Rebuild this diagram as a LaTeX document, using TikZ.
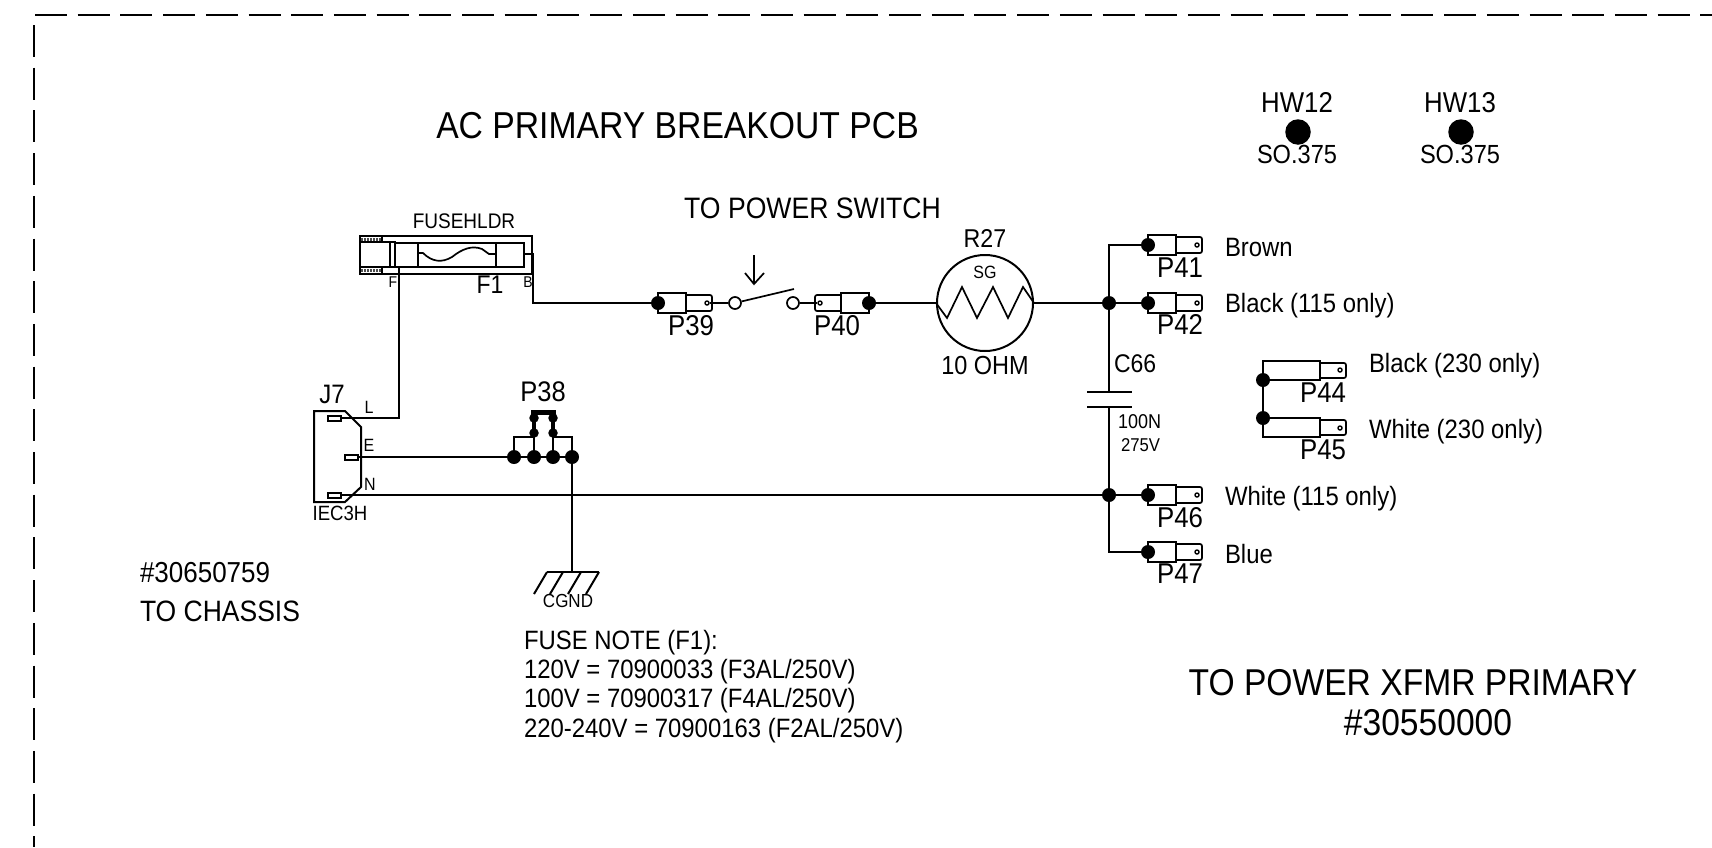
\documentclass[tikz,border=0pt]{standalone}
\usepackage{fontspec}
\setmainfont[FakeStretch=0.9]{Liberation Sans}
\tikzset{
  x=1pt,y=-1pt,
  wire/.style={line width=2pt,black},
  thin wire/.style={line width=1.7pt,black},
  heavy/.style={line width=4.4pt,black},
  frame line/.style={line width=2pt,black,dash pattern=on 32pt off 10.7pt},
  jdot/.style={circle,fill=black,draw=none,inner sep=0pt,minimum size=14pt},
  sdot/.style={circle,fill=black,draw=none,inner sep=0pt,minimum size=9.5pt},
  hole/.style={circle,draw=black,line width=1.4pt,fill=white,inner sep=0pt,minimum size=4pt},
  swc/.style={circle,draw=black,line width=1.7pt,fill=white,inner sep=0pt,minimum size=12pt},
  hwdot/.style={circle,fill=black,draw=none,inner sep=0pt,minimum size=25.5pt},
  lbl/.style={inner sep=0pt,outer sep=0pt,anchor=base},
  lbw/.style={inner sep=0pt,outer sep=0pt,anchor=base west},
}
\newcommand{\ct}[4]{\node[lbl,font=\fontsize{\fpeval{#3/0.9}pt}{#3pt}\selectfont] (#1) at (#2) {#4};}
\newcommand{\lf}[4]{\node[lbw,font=\fontsize{\fpeval{#3/0.9}pt}{#3pt}\selectfont] (#1) at (#2) {#4};}
% faston terminal: #1 name, #2 x, #3 y, #4 direction (1 or -1)
\newcommand{\faston}[4]{%
  \begin{scope}[shift={(#2,#3)},xscale=#4]
    \draw[thin wire] (0,-10) -- (28,-10) -- (28,10) -- (0,10) -- cycle;
    \draw[thin wire,rounded corners=2pt] (28,-8) -- (54,-8) -- (54,8) -- (28,8);
    \node[hole] (#1h) at (49,0) {};
    \node[jdot] (#1) at (0,0) {};
  \end{scope}}
\begin{document}
\begin{tikzpicture}
\useasboundingbox (0,0) rectangle (1712,847);
% sheet border
\coordinate (fa) at (35,15); \coordinate (fb) at (1712,15);
\coordinate (fc) at (34,25); \coordinate (fd) at (34,847);
\draw[frame line] (fa) -- (fb);
\draw[frame line] (fc) -- (fd);

% fuse holder
\draw[wire] (360,236) -- (532,236) -- (532,274) -- (360,274) -- cycle;
\draw[line width=2.6pt] (360,236) -- (360,274);
\draw[wire] (360,242) -- (395,242) -- (395,267) -- (360,267);
\draw[wire] (390,242) -- (390,267);
\draw[wire] (382,236) -- (382,242);
\draw[wire] (382,267) -- (382,274);
\draw[line width=3pt,black!70,dash pattern=on 2pt off 1pt] (361,239) -- (381,239);
\draw[line width=3pt,black!70,dash pattern=on 2pt off 1pt] (361,270.5) -- (381,270.5);
\draw[thin wire] (395,243) rectangle (524,267);
\draw[line width=2.4pt] (418,243) rectangle (496,267);
\draw[thin wire] (418,253) -- (423,253) .. controls (432,262) and (442,263) .. (452,257) .. controls (462,249) and (472,245) .. (482,249) -- (489,254) -- (496,254);
\coordinate (fbr) at (524,254);
\coordinate (fbk) at (533,254);
\coordinate (fbd) at (533,303);
\coordinate (ffp) at (399,267);
\coordinate (ffd) at (399,418);

% J7
\draw[wire] (314,411) -- (345,411) -- (361,427) -- (361,487) -- (345,502) -- (314,502) -- cycle;
\draw[thin wire,fill=white] (328,416) rectangle (341,421);
\draw[thin wire,fill=white] (345,455) rectangle (358,460);
\draw[thin wire,fill=white] (328,493) rectangle (341,498);
\coordinate (jl) at (341,418);
\coordinate (je) at (358,457);
\coordinate (jn) at (341,495);

% P38
\node[jdot] (p38a) at (514,457) {};
\node[jdot] (p38b) at (534,457) {};
\node[jdot] (p38c) at (553,457) {};
\node[jdot] (p38d) at (572,457) {};
\coordinate (p38ta) at (514,437); \coordinate (p38td) at (572,437);
\coordinate (p38tb) at (534,437); \coordinate (p38tc) at (553,437);
\node[sdot] (p38e) at (534,433) {};
\node[sdot] (p38f) at (553,433) {};
\node[sdot] (p38g) at (534,418) {};
\node[sdot] (p38h) at (553,418) {};
\coordinate (p38i) at (531,412); \coordinate (p38j) at (556,412);
\coordinate (p38k) at (534,412); \coordinate (p38l) at (553,412);
\draw[wire] (p38a.center) -- (p38ta) -- (p38tb);
\draw[wire] (p38d.center) -- (p38td) -- (p38tc);
\draw[wire] (p38b.center) -- (p38e.center);
\draw[wire] (p38c.center) -- (p38f.center);
\draw[heavy] (p38e.center) -- (p38g.center) -- (p38k);
\draw[heavy] (p38f.center) -- (p38h.center) -- (p38l);
\draw[line width=5pt] (p38i) -- (p38j);

% ground
\coordinate (ga) at (547,572); \coordinate (gb) at (563,572);
\coordinate (gc) at (581,572); \coordinate (gd) at (599,572);
\coordinate (gm) at (572,572);
\draw[wire] (ga) -- (gd);
\draw[wire] (ga) -- ++(-13,22);
\draw[wire] (gb) -- ++(-13,22);
\draw[wire] (gc) -- ++(-13,22);
\draw[wire] (gd) -- ++(-13,22);

% terminals
\faston{p39}{658}{303}{1}
\faston{p40}{869}{303}{-1}
\faston{p41}{1148}{245}{1}
\faston{p42}{1148}{303}{1}
\faston{p46}{1148}{495}{1}
\faston{p47}{1148}{552}{1}

% P44 / P45
\begin{scope}
\draw[thin wire] (1263,380) -- (1320,380) -- (1320,361) -- (1263,361) -- (1263,437) -- (1320,437) -- (1320,418) -- (1263,418);
\draw[thin wire,rounded corners=2pt] (1320,363) -- (1346,363) -- (1346,378) -- (1320,378);
\draw[thin wire,rounded corners=2pt] (1320,420) -- (1346,420) -- (1346,435) -- (1320,435);
\node[hole] (p44h) at (1340,370) {};
\node[hole] (p45h) at (1340,428) {};
\node[jdot] (p44) at (1263,380) {};
\node[jdot] (p45) at (1263,418) {};
\end{scope}

% switch
\node[swc] (sa) at (735,303) {};
\node[swc] (sb) at (793,303) {};
\coordinate (sl) at (794,289);
\draw[thin wire] (sa) -- (sl);
\draw[thin wire] (p39h) -- (sa);
\draw[thin wire] (sb) -- (p40h);
\coordinate (aa) at (754,255); \coordinate (ab) at (754,284);
\coordinate (ac) at (745,273); \coordinate (ad) at (764,273);
\draw[thin wire] (aa) -- (ab);
\draw[thin wire] (ac) -- (ab) -- (ad);

% R27
\node[circle,draw=black,line width=2pt,inner sep=0pt,minimum size=96pt] (r27) at (985,303) {};
\draw[thin wire] (r27.west) -- (947,318) -- (962,287) -- (977,318) -- (993,287) -- (1008,318) -- (1023,287) -- (r27.east);

% C66
\coordinate (ca) at (1087,392); \coordinate (cb) at (1132,392);
\coordinate (cc) at (1087,407); \coordinate (cd) at (1132,407);
\coordinate (ct) at (1109,392); \coordinate (cu) at (1109,407);
\draw[wire] (ca) -- (cb);
\draw[wire] (cc) -- (cd);

% junctions
\node[jdot] (ju) at (1109,303) {};
\node[jdot] (jd) at (1109,495) {};
\coordinate (ct41) at (1109,245);
\coordinate (ct47) at (1109,552);

% wires
\draw[wire] (fbr) -- (fbk) -- (fbd) -- (p39.center);
\draw[wire] (ffp) -- (ffd) -- (jl);
\draw[wire] (je) -- (p38a.center);
\draw[wire] (p38a.center) -- (p38d.center);
\draw[wire] (jn) -- (jd.center);
\draw[wire] (p38d.center) -- (gm);
\draw[wire] (p40.center) -- (r27.west);
\draw[wire] (r27.east) -- (p42.center);
\draw[wire] (p41.center) -- (ct41) -- (ju.center) -- (ct);
\draw[wire] (cu) -- (jd.center) -- (ct47) -- (p47.center);
\draw[wire] (jd.center) -- (p46.center);
\draw[wire] (p44.center) -- (p45.center);

% hardware
\node[hwdot] (hw12) at (1298,132) {};
\node[hwdot] (hw13) at (1461,132) {};

% text
\ct{t1}{677.5,138}{33.7}{AC PRIMARY BREAKOUT PCB}
\ct{t2}{812.5,218}{26.6}{TO POWER SWITCH}
\ct{t3}{464,228}{19}{FUSEHLDR}
\ct{t4}{490,293}{23}{F1}
\ct{t5}{393,287}{14}{F}
\ct{t6}{528,287}{14}{B}
\ct{t7}{332,403}{24}{J7}
\ct{t8}{369,413}{16}{L}
\ct{t9}{369,451}{16}{E}
\ct{t10}{370,490}{16}{N}
\ct{t11}{340,520}{18.6}{IEC3H}
\ct{t12}{543,401}{25.5}{P38}
\ct{t13}{691,335}{25.8}{P39}
\ct{t14}{837,335}{25.8}{P40}
\ct{t15}{985,247}{23.2}{R27}
\ct{t16}{985,278}{16}{SG}
\ct{t17}{985,374}{23.5}{10 OHM}
\ct{t18}{1180,277}{25.8}{P41}
\ct{t19}{1180,334}{25.8}{P42}
\ct{t20}{1323,402}{25.8}{P44}
\ct{t21}{1323,459}{25.8}{P45}
\ct{t22}{1180,527}{25.8}{P46}
\ct{t23}{1180,583}{25.8}{P47}
\lf{t24}{1225,256}{23.9}{Brown}
\lf{t25}{1225,312}{23.9}{Black (115 only)}
\lf{t26}{1369,372}{23.9}{Black (230 only)}
\lf{t27}{1369,438}{23.9}{White (230 only)}
\lf{t28}{1225,505}{23.9}{White (115 only)}
\lf{t29}{1225,563}{23.9}{Blue}
\lf{t30}{1114,372}{23}{C66}
\lf{t31}{1118,428}{18}{100N}
\lf{t32}{1121,451}{16.7}{275V}
\ct{t33}{1297,112}{25.8}{HW12}
\ct{t34}{1460,112}{25.8}{HW13}
\ct{t35}{1297,163}{23.6}{SO.375}
\ct{t36}{1460,163}{23.6}{SO.375}
\lf{t37}{140,582}{26}{\#30650759}
\lf{t38}{140,621}{26.5}{TO CHASSIS}
\ct{t39}{568,607}{17}{CGND}
\lf{t40}{524,649}{23.9}{FUSE NOTE (F1):}
\lf{t41}{524,678}{23.9}{120V = 70900033 (F3AL/250V)}
\lf{t42}{524,707}{23.9}{100V = 70900317 (F4AL/250V)}
\lf{t43}{524,737}{23.9}{220-240V = 70900163 (F2AL/250V)}
\ct{t44}{1413,695}{33.6}{TO POWER XFMR PRIMARY}
\ct{t45}{1428,735}{33.6}{\#30550000}
\end{tikzpicture}
\end{document}
